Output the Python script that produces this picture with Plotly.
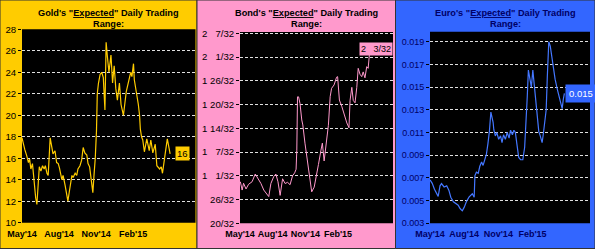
import pandas as pd
import plotly.graph_objects as go

START = "2014-05-01"

# ---------------- data (days since 1 May 2014, value) ----------------
gold_day = [0, 3, 7, 12, 16, 19, 22, 26, 30, 34, 37, 40, 43, 47, 51, 55, 58, 62, 65, 70,
            73, 77, 82, 86, 90, 93, 99, 102, 107, 111, 114, 118, 124, 127, 132, 136, 139, 144,
            148, 152, 156, 161, 164, 168, 172, 176, 179, 182, 185, 187, 190, 194, 198, 202,
            206, 209, 212, 216, 221, 225, 229, 233, 237, 242, 246, 252, 259, 264, 270, 273,
            277, 279, 285, 289, 292, 294, 297, 300, 304, 310, 316, 320, 325, 331, 335, 342,
            346, 349, 356, 361, 368]
gold_val = [17.9, 17.3, 16.8, 16.2, 15.6, 15.9, 15.0, 15.5, 13.8, 12.3, 11.7, 13.5, 15.2,
            14.8, 15.3, 15.0, 15.3, 14.6, 14.4, 17.9, 17.2, 16.4, 16.7, 15.6, 15.5, 15.1,
            14.0, 14.4, 13.5, 12.8, 12.0, 13.0, 14.4, 14.2, 14.6, 14.4, 15.0, 15.3, 15.8,
            17.0, 16.5, 16.3, 15.5, 15.2, 13.8, 12.8, 14.5, 16.0, 18.5, 22.0, 23.0, 23.8,
            24.0, 23.5, 20.5, 26.8, 25.5, 24.0, 25.6, 23.0, 24.6, 22.5, 21.4, 23.0, 21.0,
            20.0, 22.2, 23.0, 24.0, 23.6, 24.8, 23.3, 22.0, 21.0, 20.0, 18.7, 18.0, 17.7,
            16.6, 17.8, 16.7, 17.7, 16.5, 17.3, 15.3, 15.0, 15.2, 14.6, 16.5, 17.8, 16.4]

bond_day = [1, 6, 10, 17, 24, 34, 43, 52, 59, 67, 74, 81, 87, 95, 101, 107, 113, 120, 127,
            134, 141, 148, 154, 158, 160, 162, 165, 169, 174, 177, 183, 191, 197, 202, 209,
            214, 221, 228, 232, 237, 242, 249, 254, 258, 265, 272, 275, 280, 287, 294, 301,
            307, 310, 315, 319, 324, 329, 333, 338, 343, 347, 352, 357, 361, 366]
bond_val = [0.975, 0.905, 0.962, 0.914, 0.953, 0.975, 1.04, 1.0, 0.96, 0.905, 0.877, 0.85,
            0.96, 1.018, 1.04, 0.975, 0.86, 1.0, 0.96, 0.97, 0.95, 1.025, 1.05, 1.08, 1.24,
            1.69, 1.69, 1.635, 1.495, 1.453, 1.30, 1.144, 1.0, 0.89, 0.93, 1.025, 1.12, 1.24,
            1.30, 1.15, 1.30, 1.45, 1.691, 1.762, 1.79, 1.855, 1.86, 1.663, 1.607, 1.537,
            1.47, 1.43, 1.66, 1.77, 1.66, 1.64, 1.77, 1.93, 1.88, 1.86, 1.9, 1.85, 1.944,
            1.93, 2.094]

euro_day = [0, 6, 12, 18, 22, 27, 31, 38, 45, 51, 56, 63, 70, 76, 81, 87, 92, 98, 105, 110,
            114, 119, 121, 125, 130, 134, 139, 143, 147, 152, 156, 160, 164, 167, 170, 172,
            176, 180, 185, 190, 194, 198, 203, 208, 213, 217, 222, 226, 230, 234, 239, 244,
            250, 255, 259, 262, 265, 270, 273, 277, 282, 286, 290, 293, 297, 302, 305, 308,
            313, 316, 320, 324, 328, 333, 337, 343, 349, 353, 356, 359, 362]
euro_val = [0.00682, 0.00652, 0.0060, 0.0056, 0.00537, 0.0063, 0.0065, 0.0062, 0.0063,
            0.0059, 0.0053, 0.0049, 0.0047, 0.0046, 0.0043, 0.0041, 0.0044, 0.0049, 0.0053,
            0.0055, 0.0056, 0.0053, 0.0072, 0.0075, 0.0074, 0.0080, 0.0084, 0.0081, 0.0085,
            0.0091, 0.0100, 0.0111, 0.0128, 0.0124, 0.0119, 0.01122, 0.0107, 0.0110, 0.0104,
            0.0107, 0.0101, 0.0108, 0.0104, 0.0110, 0.0105, 0.0112, 0.0108, 0.0112, 0.0110,
            0.0100, 0.0088, 0.0086, 0.0086, 0.0097, 0.0117, 0.01415, 0.0165, 0.0153, 0.0150,
            0.0165, 0.01474, 0.0130, 0.0120, 0.0111, 0.0107, 0.0101, 0.0108, 0.0116, 0.0130,
            0.0159, 0.0190, 0.0186, 0.0177, 0.0165, 0.0157, 0.0148, 0.0139, 0.01333, 0.0131,
            0.0139, 0.01445]

x_start, x_end = "2014-05-01", "2015-07-06"
x_ticks = ["2014-05-01", "2014-08-01", "2014-11-01", "2015-02-01"]
x_ticktext = ["May'14", "Aug'14", "Nov'14", "Feb'15"]

gold_ticks = [10, 12, 14, 16, 18, 20, 22, 24, 26, 28]
bond_ticks = [0.625, 0.825, 1.025, 1.225, 1.425, 1.625, 1.825, 2.025, 2.225]
bond_ticktext = ["20/32", "26/32", "1\u00a0\u00a0\u00a01/32", "1\u00a0\u00a0\u00a07/32", "1 14/32",
                 "1 20/32", "1 26/32", "2\u00a0\u00a0\u00a01/32", "2\u00a0\u00a0\u00a07/32"]
euro_ticks = [0.003, 0.005, 0.007, 0.009, 0.011, 0.013, 0.015, 0.017, 0.019]

gold_label = "16"
bond_label = "2\u00a0\u00a0\u00a03/32"
euro_label = "0.015"

# ---------------- styling ----------------
W, H = 595, 249
FONT = "Arial, Liberation Sans, sans-serif"
GOLD_BG, BOND_BG, EURO_BG = "#FFCC00", "#FF99CC", "#3366FF"
NAVY = "#000066"

PLOTS = [(22, 195.5, 29.3, 222.7), (240, 393, 32, 223.3), (430, 590, 31.7, 223.3)]


def fx(p):
    return p / W


def fy(p):
    return 1 - p / H


def dates(days):
    return pd.Timestamp(START) + pd.to_timedelta(days, unit="D")


fig = go.Figure()
fig.add_trace(go.Scatter(x=dates(gold_day), y=gold_val, mode="lines",
                         line=dict(color="#FFCC00", width=1.2), xaxis="x", yaxis="y"))
fig.add_trace(go.Scatter(x=dates(bond_day), y=bond_val, mode="lines",
                         line=dict(color="#FF99CC", width=1), xaxis="x2", yaxis="y2"))
fig.add_trace(go.Scatter(x=dates(euro_day), y=euro_val, mode="lines",
                         line=dict(color="#4477FF", width=1.2), xaxis="x3", yaxis="y3"))

xcommon = dict(type="date", range=[x_start, x_end], tickvals=x_ticks, ticktext=x_ticktext,
               tickangle=0, showgrid=False, zeroline=False, ticks="", showline=False,
               automargin=False, ticklabelstandoff=4,
               tickfont=dict(family=FONT, size=9, color="#000", weight="bold"), fixedrange=True)
ycommon = dict(showgrid=True, gridcolor="#E0E0E0", griddash="3px,2px", gridwidth=1,
               zeroline=False, ticks="outside", ticklen=3, tickcolor="#000",
               showline=False, fixedrange=True, automargin=False)

(g0, g1, g2, g3), (b0, b1, b2, b3), (e0, e1, e2, e3) = PLOTS
fig.update_layout(
    width=W, height=H, margin=dict(l=0, r=0, t=0, b=0, autoexpand=False),
    paper_bgcolor="white", plot_bgcolor="black", showlegend=False,
    xaxis=dict(domain=[fx(g0), fx(g1)], anchor="y", **xcommon),
    yaxis=dict(domain=[fy(g3), fy(g2)], anchor="x", range=[10, 28], tickvals=gold_ticks,
               tickfont=dict(family=FONT, size=9.6, color="#000"), **ycommon),
    xaxis2=dict(domain=[fx(b0), fx(b1)], anchor="y2", **xcommon),
    yaxis2=dict(domain=[fy(b3), fy(b2)], anchor="x2", range=[0.625, 2.236],
                tickvals=bond_ticks, ticktext=bond_ticktext,
                tickfont=dict(family=FONT, size=9.6, color="#000"), **ycommon),
    xaxis3=dict(domain=[fx(e0), fx(e1)], anchor="y3", **xcommon),
    yaxis3=dict(domain=[fy(e3), fy(e2)], anchor="x3", range=[0.003, 0.01988],
                tickvals=euro_ticks, tickformat=".3f",
                tickfont=dict(family=FONT, size=9, color=NAVY), **ycommon),
)
fig.layout.xaxis3.tickfont.color = NAVY

# panel backgrounds
for x0, x1, col in [(0, 197, GOLD_BG), (197, 395.5, BOND_BG), (395.5, 595, EURO_BG)]:
    fig.add_shape(type="rect", xref="paper", yref="paper", x0=fx(x0), x1=fx(x1),
                  y0=fy(248.5), y1=fy(0), fillcolor=col, line=dict(color="#333333", width=1),
                  layer="below")
# black plot areas (drawn above panel colour, below grid and lines)
for x0, x1, y0, y1 in PLOTS:
    fig.add_shape(type="rect", xref="paper", yref="paper", x0=fx(x0), x1=fx(x1),
                  y0=fy(y1), y1=fy(y0), fillcolor="black", line=dict(width=0), layer="below")

# titles (two lines each)
for xc, name, col in [(108.5, "Gold's", "#000"), (306.5, "Bond's", "#000"), (505, "Euro's", NAVY)]:
    fig.add_annotation(xref="paper", yref="paper", x=fx(xc), y=fy(12.7), xanchor="center",
                       yanchor="middle", showarrow=False,
                       text=f"<b>{name} \"<u>Expected</u>\" Daily Trading</b>",
                       font=dict(family=FONT, size=9.2, color=col))
    fig.add_annotation(xref="paper", yref="paper", x=fx(xc), y=fy(24.0), xanchor="center",
                       yanchor="middle", showarrow=False, text="<b>Range:</b>",
                       font=dict(family=FONT, size=9.2, color=col))

# end-of-line data labels
fig.add_annotation(x=dates([gold_day[-1]])[0], y=gold_val[-1], xref="x", yref="y",
                   text=gold_label, showarrow=False, xanchor="left", xshift=5,
                   bgcolor=GOLD_BG, font=dict(family=FONT, size=9.5, color="#000"), borderpad=1)
fig.add_annotation(x=dates([bond_day[-1]])[0], y=bond_val[-1], xref="x2", yref="y2",
                   text=bond_label, showarrow=False, xanchor="center", xshift=6,
                   bgcolor=BOND_BG, font=dict(family=FONT, size=9, color="#000"), borderpad=1)
fig.add_annotation(x=dates([euro_day[-1]])[0], y=euro_val[-1], xref="x3", yref="y3",
                   text=euro_label, showarrow=False, xanchor="left", xshift=1,
                   bgcolor=EURO_BG, font=dict(family=FONT, size=9.5, color="white"), borderpad=3)

fig.write_html("out.html")
